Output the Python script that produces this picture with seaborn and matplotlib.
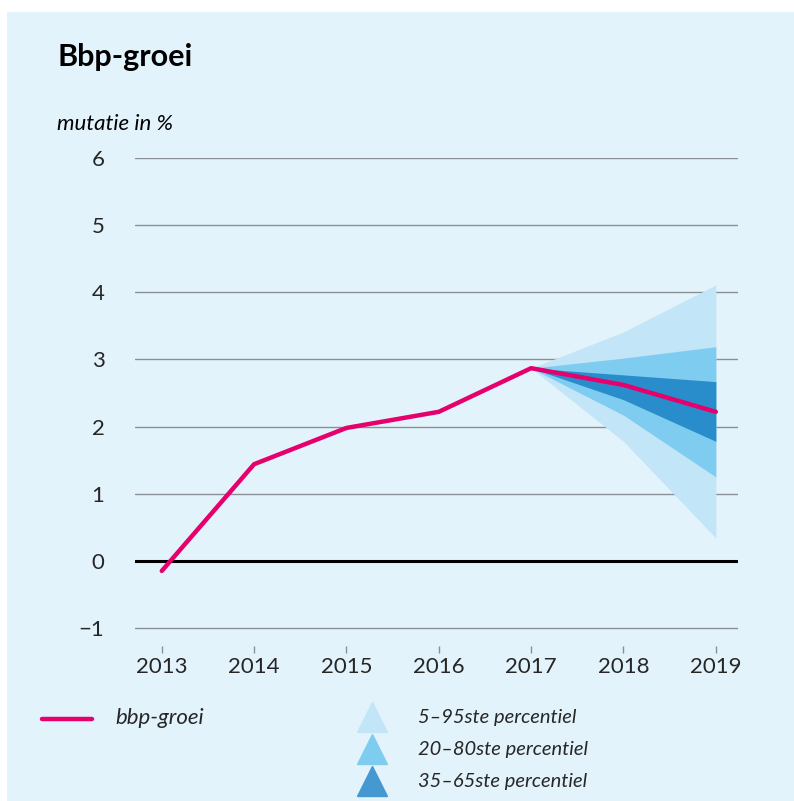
"""Bbp-groei met onzekerheidswaaier."""

import matplotlib
matplotlib.use("Agg")
import matplotlib.pyplot as plt
from matplotlib.lines import Line2D
from matplotlib.patches import Rectangle
import pandas as pd
import seaborn as sns

# data
years = [2013, 2014, 2015, 2016, 2017, 2018, 2019]
growth = [-0.15, 1.44, 1.98, 2.22, 2.87, 2.62, 2.22]

fan_years = [2017, 2018, 2019]
p5 = [2.87, 1.78, 0.34]
p95 = [2.87, 3.41, 4.11]
p20 = [2.87, 2.17, 1.25]
p80 = [2.87, 3.02, 3.19]
p35 = [2.87, 2.40, 1.78]
p65 = [2.87, 2.77, 2.67]

y_ticks = [-1, 0, 1, 2, 3, 4, 5, 6]
fan_labels = ["5–95ste percentiel", "20–80ste percentiel", "35–65ste percentiel"]

BG = "#e3f3fc"
PINK = "#e5006d"
LIGHT = "#c2e5f7"
MID = "#7ecdf0"
DARK = "#2a8dcb"
DARK_LEG = "#4598d0"
GRID = "#8a8f94"

sns.set_theme(style="white")
plt.rcParams["font.family"] = ["Lato", "DejaVu Sans"]

fig = plt.figure(figsize=(7.94, 8.01), dpi=100, facecolor="white")
fig.add_artist(Rectangle((7 / 794, 0), 1, 1 - 12 / 801, transform=fig.transFigure,
                         facecolor=BG, edgecolor="none", zorder=-10))

ax = fig.add_axes([135 / 794, 1 - 653 / 801, (738 - 135) / 794, (653 - 158) / 801])
ax.set_facecolor("none")

# fan chart
ax.fill_between(fan_years, p5, p95, color=LIGHT, linewidth=0, zorder=1)
ax.fill_between(fan_years, p20, p80, color=MID, linewidth=0, zorder=2)
ax.fill_between(fan_years, p35, p65, color=DARK, linewidth=0, zorder=3)

df = pd.DataFrame({"jaar": years, "groei": growth})
sns.lineplot(data=df, x="jaar", y="groei", color=PINK, linewidth=3.2, ax=ax, zorder=5)

for t in y_ticks:
    ax.axhline(t, color=GRID, linewidth=1.0, zorder=0)
ax.axhline(0, color="black", linewidth=2.2, zorder=4)

ax.set_xlim(2012.71, 2019.24)
ax.set_ylim(-1 - 25 / 67.2, 6)
ax.set_xticks(years)
ax.set_xticklabels([str(y) for y in years])
ax.set_yticks(y_ticks)
ax.set_yticklabels(["−1" if t == -1 else str(t) for t in y_ticks])
ax.tick_params(axis="x", direction="in", length=5.2, width=1, color=GRID,
               labelsize=16, pad=3, bottom=True)
ax.tick_params(axis="y", length=0, labelsize=16, pad=22)
for lab in ax.get_yticklabels():
    lab.set_horizontalalignment("right")
ax.set_xlabel("")
ax.set_ylabel("")
for s in ax.spines.values():
    s.set_visible(False)
ax.grid(False)

# titles
fig.text(57 / 794, 1 - 57 / 801, "Bbp-groei", fontsize=22, fontweight="bold",
         va="center", ha="left", color="black")
fig.text(57 / 794, 1 - 124 / 801, "mutatie in %", fontsize=16, style="italic",
         va="center", ha="left", color="black")

# legend
fig.add_artist(Line2D([42 / 794, 92 / 794], [1 - 719 / 801] * 2, transform=fig.transFigure,
                      color=PINK, linewidth=3.2))
fig.text(115 / 794, 1 - 718 / 801, "bbp-groei", fontsize=16, style="italic",
         va="center", ha="left")
for i, (lab, col) in enumerate(zip(fan_labels, [LIGHT, MID, DARK_LEG])):
    yy = 1 - (717 + 32 * i) / 801
    fig.add_artist(Line2D([372 / 794], [yy], transform=fig.transFigure, marker="^",
                          markersize=21, color=col, linestyle="none"))
    fig.text(418 / 794, yy, lab, fontsize=14.5, style="italic", va="center", ha="left")

fig.savefig("out.png", dpi=100, facecolor=fig.get_facecolor())
